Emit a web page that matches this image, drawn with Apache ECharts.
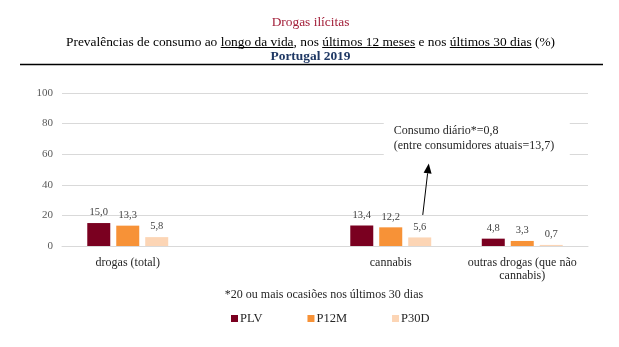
<!DOCTYPE html>
<html>
<head>
<meta charset="utf-8">
<script src="https://cdn.jsdelivr.net/npm/echarts@6/dist/echarts.min.js"></script>
<style>
html,body{margin:0;padding:0;background:#fff;}
#chart{width:619px;height:347px;}
</style>
</head>
<body>
<div id="chart"></div>
<script>
var categories = ['drogas (total)', '', 'cannabis', 'outras drogas (que não\ncannabis)'];
var seriesNames = ['PLV', 'P12M', 'P30D'];
var plv  = [15.0, null, 13.4, 4.8];
var p12m = [13.3, null, 12.2, 3.3];
var p30d = [5.8, null, 5.6, 0.7];
var yTicks = [0, 20, 40, 60, 80, 100];
var colors = ['#7a0020', '#f79237', '#fcd5b5'];

var FONT = '"Liberation Serif", "Times New Roman", serif';
var chart = echarts.init(document.getElementById('chart'));

function fmt(p) { return p.value == null ? '' : Number(p.value).toFixed(1).replace('.', ','); }

function mkSeries(name, data, i) {
  return {
    name: name, type: 'bar', data: data,
    barWidth: 23, barGap: '26%',
    itemStyle: { color: colors[i] },
    label: { show: true, position: 'top', distance: 5, formatter: fmt,
      fontFamily: FONT, fontSize: 10.5, color: '#404040' }
  };
}

// subtitle pieces with underlines, measured with the same font
var subFont = '13.4px ' + FONT;
var segs = ['Prevalências de consumo ao ', 'longo da vida', ', nos ', 'últimos 12 meses', ' e nos ', 'últimos 30 dias', ' (%)'];
var widths = segs.map(function (s) {
  return new echarts.graphic.Text({ style: { text: s, font: subFont } }).getBoundingRect().width;
});
var total = widths.reduce(function (a, b) { return a + b; }, 0);
var cx = 310.5, subY = 42;
var graphics = [];
var acc = cx - total / 2;
segs.forEach(function (s, i) {
  graphics.push({ type: 'text', silent: true, style: { x: acc, y: subY, text: s, font: subFont, fill: '#000', verticalAlign: 'middle' } });
  if (i === 1 || i === 3 || i === 5) {
    graphics.push({ type: 'line', silent: true, shape: { x1: acc, y1: subY + 5.5, x2: acc + widths[i], y2: subY + 5.5 },
      style: { stroke: '#000', lineWidth: 1 } });
  }
  acc += widths[i];
});
graphics.push({ type: 'text', silent: true, style: { x: 310.5, y: 22, text: 'Drogas ilícitas', font: '13.4px ' + FONT, fill: '#a3203a', align: 'center', verticalAlign: 'middle' } });
graphics.push({ type: 'text', silent: true, style: { x: 310.5, y: 57, text: 'Portugal 2019', font: 'bold 13.4px ' + FONT, fill: '#1f3864', align: 'center', verticalAlign: 'middle' } });
graphics.push({ type: 'line', silent: true, shape: { x1: 20, y1: 64.5, x2: 603, y2: 64.5 }, style: { stroke: '#000', lineWidth: 1.3 } });
graphics.push({ type: 'text', silent: true, style: { x: 324, y: 295, text: '*20 ou mais ocasiões nos últimos 30 dias', font: '12px ' + FONT, fill: '#262626', align: 'center', verticalAlign: 'middle' } });

chart.setOption({
  animation: false,
  backgroundColor: '#fff',
  grid: { left: 62, right: 31, top: 93, bottom: 101 },
  legend: {
    data: seriesNames, top: 307, left: 226,
    icon: 'rect', itemWidth: 7, itemHeight: 7, itemGap: 45,
    textStyle: { fontFamily: FONT, fontSize: 12.5, color: '#262626', padding: [0, 0, 0, -3] }
  },
  xAxis: {
    type: 'category', data: categories,
    axisLine: { show: true, lineStyle: { color: '#d9d9d9', width: 1 } },
    axisTick: { show: false },
    axisLabel: { interval: 0, margin: 10, fontFamily: FONT, fontSize: 12, color: '#262626', lineHeight: 13 }
  },
  yAxis: {
    type: 'value', min: yTicks[0], max: yTicks[yTicks.length - 1], interval: 20,
    axisLine: { show: false }, axisTick: { show: false },
    axisLabel: { margin: 9, fontFamily: FONT, fontSize: 11, color: '#595959' },
    splitLine: { lineStyle: { color: '#d9d9d9', width: 1 } }
  },
  series: [mkSeries('PLV', plv, 0), mkSeries('P12M', p12m, 1), mkSeries('P30D', p30d, 2)],
  graphic: graphics
});

// annotation anchored to cannabis category
var cPt = chart.convertToPixel({ xAxisIndex: 0, yAxisIndex: 0 }, ['cannabis', 54]);
var basePt = chart.convertToPixel({ xAxisIndex: 0, yAxisIndex: 0 }, ['cannabis', 20.3]);
var tipX = cPt[0] + 38, tipY = cPt[1];
var baseX = basePt[0] + 32, baseY = basePt[1];
var ang = Math.atan2(tipY - baseY, tipX - baseX);
var hl = 10, hw = 4;
var bx = tipX - hl * Math.cos(ang), by = tipY - hl * Math.sin(ang);
var px = -Math.sin(ang) * hw, py = Math.cos(ang) * hw;
var boxTop = chart.convertToPixel({ yAxisIndex: 0 }, 83);
chart.setOption({
  graphic: graphics.concat([
    { type: 'rect', z: 5, silent: true, shape: { x: cPt[0] - 7, y: boxTop, width: 186, height: 42 }, style: { fill: '#fff' } },
    { type: 'text', z: 6, style: { x: cPt[0] + 3, y: boxTop + 4, text: 'Consumo diário*=0,8\n(entre consumidores atuais=13,7)', font: '12px ' + FONT, fill: '#262626', lineHeight: 15 } },
    { type: 'line', z: 6, silent: true, shape: { x1: baseX, y1: baseY, x2: bx, y2: by }, style: { stroke: '#000', lineWidth: 1 } },
    { type: 'polygon', z: 6, silent: true, shape: { points: [[tipX, tipY], [bx + px, by + py], [bx - px, by - py]] }, style: { fill: '#000' } }
  ])
});
</script>
</body>
</html>
